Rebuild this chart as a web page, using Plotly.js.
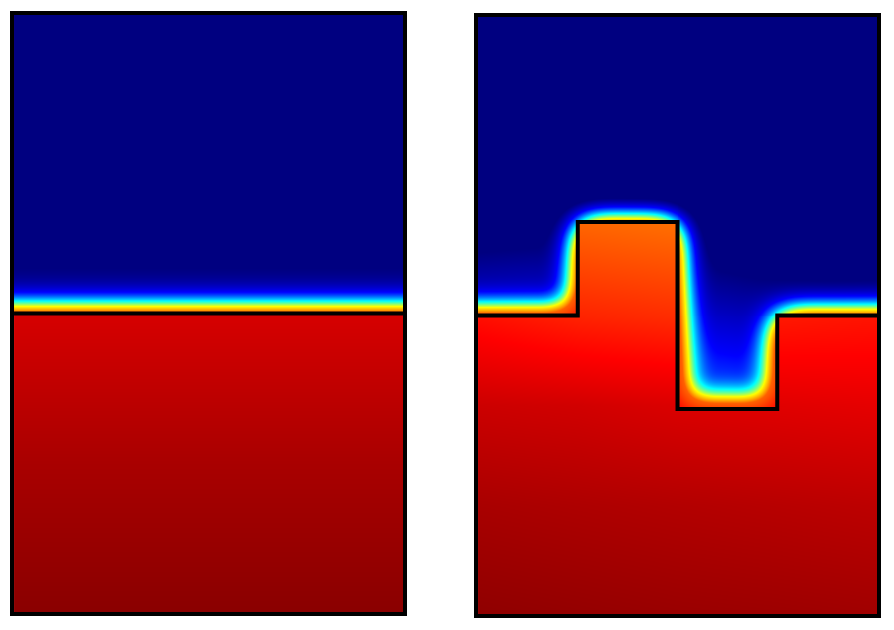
<!DOCTYPE html>
<html>
<head>
<meta charset="utf-8">
<script src="https://cdn.plot.ly/plotly-3.0.1.min.js"></script>
<style>
  body { margin: 0; background: #fff; }
  #plot { width: 894px; height: 630px; }
</style>
</head>
<body>
<div id="plot"></div>
<script>
// interface outlines (x breaks, level) for both panels
var ifaceLeftX = [0, 390];
var ifaceLeftY = [300, 300];
var ifaceRightX = [0, 100, 100, 200, 200, 300, 300, 400];
var ifaceRightY = [300, 300, 394, 394, 206, 206, 300, 300];

// field inside the solid (jet units 0..1)
var solidLeftX = [0, 390];
var solidLeftY = [0, 150, 300, 600];
var solidLeftZ = [0.99, 0.96, 0.915, 0.915];

var solidRightX = [0, 100, 200, 300, 400];
var solidRightY = [0, 110, 210, 300, 394, 600];
var solidRightZ = [
  [0.985, 0.98, 0.975, 0.972, 0.968],
  [0.96, 0.955, 0.95, 0.945, 0.94],
  [0.925, 0.92, 0.91, 0.905, 0.90],
  [0.86, 0.84, 0.83, 0.85, 0.855],
  [0.80, 0.775, 0.765, 0.80, 0.82],
  [0.80, 0.775, 0.765, 0.80, 0.82]
];

// glow above the interface: blur level -> colour
var glowLevels = [0, 0.10, 0.175, 0.27, 0.355, 0.46, 0.75];
var glowColours = ['rgb(0,0,128)', 'rgb(0,0,128)', 'rgb(0,0,255)', 'rgb(0,255,255)',
                   'rgb(255,255,0)', 'rgb(255,97,0)', 'rgb(255,0,0)'];

var jet = [[0, 'rgb(0,0,128)'], [0.125, 'rgb(0,0,255)'], [0.375, 'rgb(0,255,255)'],
           [0.625, 'rgb(255,255,0)'], [0.875, 'rgb(255,0,0)'], [1, 'rgb(128,0,0)']];

var glowScale = glowLevels.map(function (v, i) {
  return [v / glowLevels[glowLevels.length - 1], glowColours[i]];
});

function levelAt(ifx, ify, x) {
  for (var i = 0; i < ifx.length - 1; i++) {
    if (ify[i] === ify[i + 1] && x >= ifx[i] && x <= ifx[i + 1]) return ify[i];
  }
  return ify[0];
}

// separable box blur, edges clamped
function blur(grid, r, passes) {
  var ny = grid.length, nx = grid[0].length, g = grid;
  for (var p = 0; p < passes; p++) {
    var h = [], v = [], i, j, k, s;
    for (i = 0; i < ny; i++) {
      h.push([]);
      for (j = 0; j < nx; j++) {
        s = 0;
        for (k = -r; k <= r; k++) s += g[i][Math.min(nx - 1, Math.max(0, j + k))];
        h[i].push(s / (2 * r + 1));
      }
    }
    for (i = 0; i < ny; i++) {
      v.push([]);
      for (j = 0; j < nx; j++) {
        s = 0;
        for (k = -r; k <= r; k++) s += h[Math.min(ny - 1, Math.max(0, i + k))][j];
        v[i].push(s / (2 * r + 1));
      }
    }
    g = v;
  }
  return g;
}

function glowField(ifx, ify, width, height) {
  var xs = [], ys = [], solid = [];
  for (var x = 1; x < width; x += 2) xs.push(x);
  for (var y = 1; y < height; y += 2) ys.push(y);
  ys.forEach(function (y) {
    solid.push(xs.map(function (x) { return y < levelAt(ifx, ify, x) ? 1 : 0; }));
  });
  var fine = blur(solid, 7, 3);
  var wide = blur(solid, 50, 3);
  var z = solid.map(function (row, i) {
    return row.map(function (s, j) { return s ? null : 0.7 * fine[i][j] + 0.3 * wide[i][j]; });
  });
  return {x: xs, y: ys, z: z};
}

var glowLeft = glowField(ifaceLeftX, ifaceLeftY, 390, 600);
var glowRight = glowField(ifaceRightX, ifaceRightY, 400, 600);

var data = [
  {
    type: 'heatmap', x: solidLeftX, y: solidLeftY,
    z: solidLeftZ.map(function (v) { return [v, v]; }),
    colorscale: jet, zmin: 0, zmax: 1, zsmooth: 'best', showscale: false, hoverinfo: 'skip'
  },
  {
    type: 'heatmap', x: glowLeft.x, y: glowLeft.y, z: glowLeft.z,
    colorscale: glowScale, zmin: 0, zmax: 0.75, zsmooth: 'best', showscale: false, hoverinfo: 'skip'
  },
  {
    type: 'heatmap', x: solidRightX, y: solidRightY, z: solidRightZ, xaxis: 'x2', yaxis: 'y2',
    colorscale: jet, zmin: 0, zmax: 1, zsmooth: 'best', showscale: false, hoverinfo: 'skip'
  },
  {
    type: 'heatmap', x: glowRight.x, y: glowRight.y, z: glowRight.z, xaxis: 'x2', yaxis: 'y2',
    colorscale: glowScale, zmin: 0, zmax: 0.75, zsmooth: 'best', showscale: false, hoverinfo: 'skip'
  },
  {
    type: 'scatter', mode: 'lines', x: ifaceLeftX, y: ifaceLeftY,
    line: {color: 'black', width: 4}, hoverinfo: 'skip'
  },
  {
    type: 'scatter', mode: 'lines', x: ifaceRightX, y: ifaceRightY, xaxis: 'x2', yaxis: 'y2',
    line: {color: 'black', width: 4}, hoverinfo: 'skip'
  }
];

var frame = {
  showline: true, mirror: true, linewidth: 4, linecolor: 'black',
  showgrid: false, zeroline: false, showticklabels: false, ticks: '', fixedrange: true
};

var layout = {
  width: 894,
  height: 630,
  margin: {l: 0, r: 0, t: 0, b: 0},
  paper_bgcolor: 'white',
  plot_bgcolor: 'white',
  showlegend: false,
  xaxis: Object.assign({domain: [0.0157, 0.4508], range: [0, 390]}, frame),
  yaxis: Object.assign({domain: [0.0286, 0.9762], range: [0, 600]}, frame),
  xaxis2: Object.assign({domain: [0.5347, 0.981], range: [0, 400], anchor: 'y2'}, frame),
  yaxis2: Object.assign({domain: [0.0254, 0.973], range: [0, 600], anchor: 'x2'}, frame)
};

Plotly.newPlot('plot', data, layout, {staticPlot: true});
</script>
</body>
</html>
